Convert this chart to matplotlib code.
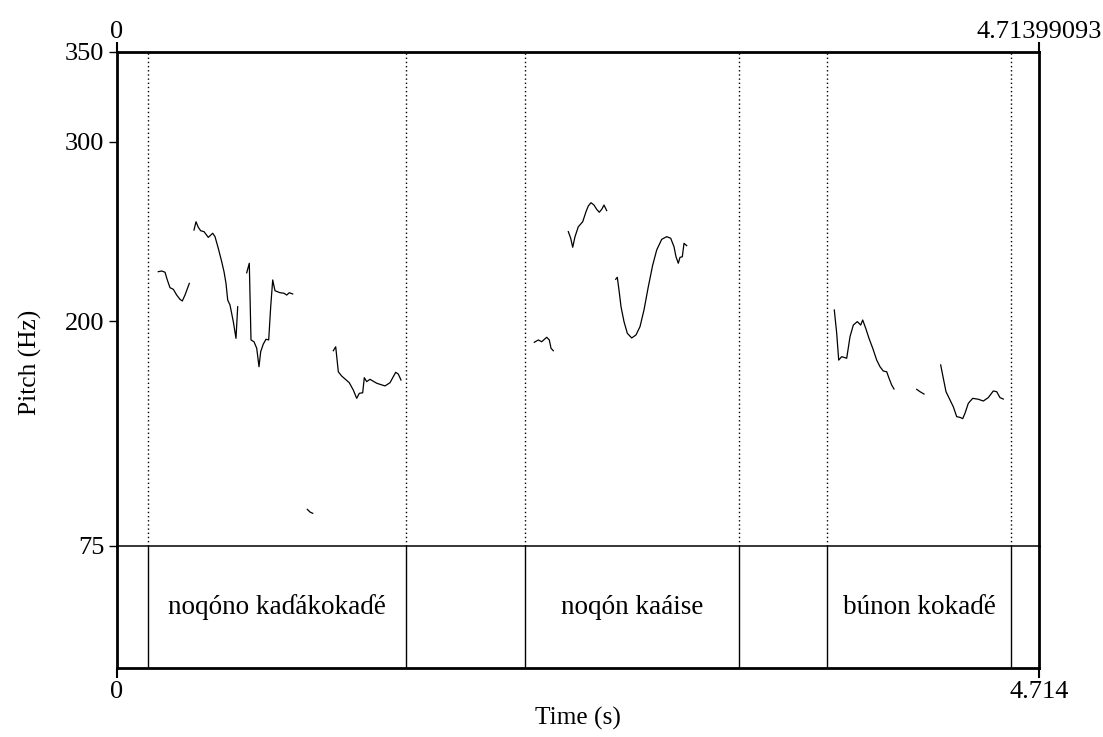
import matplotlib
matplotlib.use("Agg")
import matplotlib.pyplot as plt

plt.rcParams['font.family'] = ['Liberation Serif', 'DejaVu Serif']

T_END = 4.71399093
Y_MIN, Y_MAX = 75, 350
y_ticks = [75, 200, 300, 350]

# pitch contour segments (time s, pitch Hz)
seg_times = [
    [0.2112, 0.2285, 0.2454, 0.2572, 0.2710, 0.2878, 0.3052, 0.3221, 0.3339, 0.3477, 0.3697],
    [0.3937, 0.4039, 0.4157, 0.4279, 0.4448, 0.4668, 0.4893, 0.5011, 0.5179, 0.5353, 0.5471,
     0.5573, 0.5660, 0.5777, 0.5946, 0.6084, 0.6171],
    [0.6631, 0.6764, 0.6851, 0.7005, 0.7143, 0.7260, 0.7347, 0.7480, 0.7618, 0.7756, 0.7858,
     0.7961, 0.8078, 0.8334, 0.8538, 0.8676, 0.8809, 0.8983],
    [0.9730, 0.9868, 1.0006],
    [1.1059, 1.1182, 1.1315, 1.1488, 1.1657, 1.1877, 1.2082, 1.2255, 1.2388, 1.2562, 1.2644,
     1.2767, 1.2935, 1.3278, 1.3702, 1.3958, 1.4249, 1.4382, 1.4520],
    [2.1336, 2.1540, 2.1714, 2.1970, 2.2103, 2.2189, 2.2307],
    [2.3074, 2.3197, 2.3299, 2.3417, 2.3585, 2.3810, 2.3979, 2.4097, 2.4235, 2.4388, 2.4526,
     2.4659, 2.4782, 2.4899, 2.5037],
    [2.5497, 2.5579, 2.5666, 2.5769, 2.5922, 2.6091, 2.6316, 2.6535, 2.6740, 2.6944, 2.7164,
     2.7389, 2.7594, 2.7849, 2.8105, 2.8310, 2.8478, 2.8581, 2.8698, 2.8785, 2.8903, 2.8990,
     2.9128],
    [3.6674, 3.6797, 3.6899, 3.7053, 3.7308, 3.7477, 3.7646, 3.7850, 3.8024, 3.8126, 3.8280,
     3.8448, 3.8638, 3.8842, 3.9011, 3.9180, 3.9353, 3.9471, 3.9609, 3.9726],
    [4.0887, 4.1056, 4.1260],
    [4.2113, 4.2247, 4.2385, 4.2590, 4.2759, 4.2932, 4.3101, 4.3239, 4.3356, 4.3525, 4.3750,
     4.4036, 4.4292, 4.4547, 4.4803, 4.4977, 4.5146, 4.5314],
]
seg_pitch = [
    [227.7, 228.1, 227.4, 223.1, 218.8, 217.9, 214.7, 212.3, 211.4, 214.7, 221.2],
    [250.9, 255.5, 252.4, 250.5, 250.0, 246.8, 249.1, 247.2, 240.7, 233.3, 227.7,
     221.2, 211.9, 209.2, 199.9, 190.6, 208.2],
    [227.1, 232.4, 189.7, 188.7, 185.1, 174.8, 183.2, 187.4, 190.1, 189.7, 208.2,
     223.1, 217.1, 216.0, 215.7, 214.7, 216.0, 215.3],
    [95.4, 93.9, 93.2],
    [183.7, 185.9, 172.0, 169.6, 168.0, 165.9, 161.8, 157.2, 160.0, 160.3, 168.7,
     166.5, 167.8, 165.6, 164.1, 165.9, 171.7, 170.7, 167.4],
    [188.4, 189.7, 188.7, 191.2, 189.7, 185.1, 183.7],
    [250.0, 246.3, 241.3, 247.2, 252.7, 255.5, 261.1, 264.3, 266.1, 264.8, 262.4,
     260.8, 262.4, 264.8, 261.7],
    [223.5, 224.6, 217.5, 208.2, 199.9, 193.4, 190.8, 192.5, 197.1, 206.4, 219.3,
     231.4, 239.8, 245.7, 247.2, 246.3, 241.6, 236.0, 232.4, 235.7, 236.0, 243.5,
     242.2],
    [206.4, 193.4, 178.5, 180.4, 179.5, 191.5, 198.0, 199.9, 198.0, 200.8, 196.2,
     190.6, 185.1, 178.5, 174.8, 172.4, 172.0, 168.4, 164.6, 162.4],
    [162.2, 160.9, 159.6],
    [175.8, 168.4, 160.9, 156.3, 152.5, 147.0, 146.6, 145.9, 148.9, 154.4, 157.2,
     156.7, 155.7, 157.6, 161.3, 160.9, 157.6, 156.8],
]

# text tier intervals
bounds = [0.1585, 1.4776, 2.0860, 3.1802, 3.6301, 4.5708]
label_starts = [0.1585, 2.0860, 3.6301]
label_ends = [1.4776, 3.1802, 4.5708]
labels = ["noqóno kaɗákokaɗé", "noqón kaáise", "búnon kokaɗé"]

W, H = 1103, 737
fig = plt.figure(figsize=(W / 100, H / 100), dpi=100)
left = 117 / W
width = 922 / W
top_p = 1 - 52 / H
bot_p = 1 - 546 / H
bot_t = 1 - 668 / H

axt = fig.add_axes([left, bot_t, width, bot_p - bot_t])
ax = fig.add_axes([left, bot_p, width, top_p - bot_p])
axt.patch.set_visible(False)
ax.patch.set_visible(False)

FS_TICK = 19
FS_LAB = 19.5
FS_AX = 18.3

for t, p in zip(seg_times, seg_pitch):
    ax.plot(t, p, color='black', lw=0.9, solid_joinstyle='round')

for b in bounds:
    ax.axvline(b, color='black', lw=1.0, linestyle=(0, (1, 2)))
    axt.axvline(b, color='black', lw=1.0)

ax.set_xlim(0, T_END)
ax.set_ylim(Y_MIN, Y_MAX)
axt.set_xlim(0, T_END)
axt.set_ylim(0, 1)

for s, e, lab in zip(label_starts, label_ends, labels):
    axt.text((s + e) / 2, 0.5, lab, ha='center', va='center', fontsize=FS_LAB)

# spines
for name in ['left', 'top', 'right']:
    ax.spines[name].set_linewidth(2)
ax.spines['bottom'].set_linewidth(1.1)
ax.spines['bottom'].set_color('black')
for name in ['left', 'bottom', 'right']:
    axt.spines[name].set_linewidth(2)
axt.spines['top'].set_visible(False)

ax.set_yticks(y_ticks)
ax.set_yticklabels([str(v) for v in y_ticks], fontsize=FS_TICK)
ax.tick_params(axis='y', direction='out', length=6, width=1, pad=3)
ax.set_xticks([0, T_END])
ax.tick_params(axis='x', which='both', bottom=False, labelbottom=False,
               top=True, labeltop=False, direction='out', length=7, width=1.5)

axt.set_yticks([])
axt.set_xticks([0, T_END])
axt.set_xticklabels([])
axt.tick_params(axis='x', direction='out', length=7, width=1.5)

# top and bottom time labels
for x, s in [(0, "0"), (T_END, "4.71399093")]:
    ax.annotate(s, xy=(x, 1), xycoords=('data', 'axes fraction'),
                xytext=(0, 6.5), textcoords='offset points',
                ha='center', va='bottom', fontsize=FS_TICK)
for x, s in [(0, "0"), (T_END, "4.714")]:
    axt.annotate(s, xy=(x, 0), xycoords=('data', 'axes fraction'),
                 xytext=(0, -9.5), textcoords='offset points',
                 ha='center', va='top', fontsize=FS_TICK)

fig.text(30 / W, 1 - 362 / H, "Pitch (Hz)", rotation=90, ha='center', va='center', fontsize=FS_AX)
fig.text((117 + 461) / W, 1 - 718 / H, "Time (s)", ha='center', va='center', fontsize=FS_AX)

fig.savefig("out.png", dpi=100)
